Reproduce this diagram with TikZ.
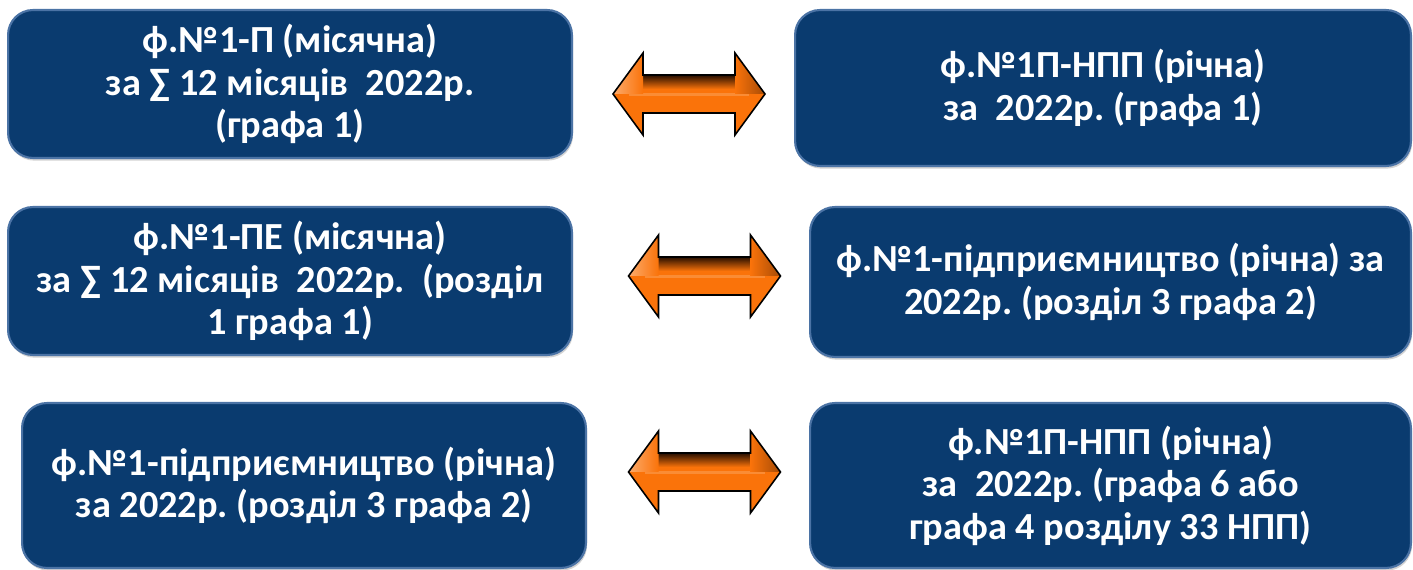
\documentclass[tikz,border=0pt]{standalone}
\usepackage{fontspec}
\setmainfont{Carlito}
\usetikzlibrary{shadows}
\frenchspacing
\definecolor{boxblue}{RGB}{10,59,111}
\definecolor{boxedge}{RGB}{75,115,165}
\definecolor{arrowlight}{RGB}{250,115,10}
\definecolor{arrowdark}{RGB}{40,15,0}
\newcommand{\linkshape}{(-76,0) -- (-46,-41) -- (-46,-19) -- (46,-19) -- (46,-41) -- (76,0)
	-- (46,41) -- (46,19) -- (-46,19) -- (-46,41) -- cycle}

\begin{document}
\begin{tikzpicture}[x=0.02cm, y=-0.02cm,
	formbox/.style={draw=boxedge, line width=1.2pt, fill=boxblue, rounded corners=0.5cm, text=white, align=center, inner sep=0pt,
		font=\bfseries\fontsize{21.8}{24.2}\selectfont, drop shadow={opacity=0.35, shadow xshift=0.6pt, shadow yshift=-1.5pt}}]
	\useasboundingbox (0,0) rectangle (1413,570);

	\node [formbox, minimum width=11.28cm, minimum height=2.96cm] (pmonth) at (290,84)
		{ф.№1-П (місячна)\\за ∑ 12 місяців\ \ 2022р.\\(графа 1)};
	\node [formbox, minimum width=12.32cm, minimum height=3.12cm] (nppyear) at (1103,88)
		{ф.№1П-НПП (річна)\\за\ \ 2022р. (графа 1)};

	\node [formbox, minimum width=11.28cm, minimum height=2.96cm] (pemonth) at (290,281)
		{ф.№1-ПЕ (місячна)\\за ∑ 12 місяців\ \ 2022р.\ \ (розділ\\1 графа 1)};
	\node [formbox, minimum width=12.02cm, minimum height=3cm] (entyear) at (1110.5,282)
		{ф.№1-підприємництво (річна) за\\2022р. (розділ 3 графа 2)};

	\node [formbox, minimum width=11.28cm, minimum height=3.3cm] (entyearb) at (304,485.5)
		{ф.№1-підприємництво (річна)\\за 2022р. (розділ 3 графа 2)};
	\node [formbox, minimum width=12.02cm, minimum height=3.3cm] (nppyearb) at (1110.5,485.5)
		{ф.№1П-НПП (річна)\\за\ \ 2022р. (графа 6 або\\графа 4 розділу 33 НПП)};

	\coordinate (link1) at (689,94);
	\coordinate (link2) at (704.5,276);
	\coordinate (link3) at (704.5,472);

	\foreach \l in {link1,link2,link3}
	{
		\begin{scope}[shift={(\l)}]
			\fill [arrowlight] \linkshape;
			\shade [top color=arrowdark, bottom color=arrowlight] (-46,-19) rectangle (46,-5);
			\fill [arrowlight!70!white, opacity=0.6] (-60,-1) rectangle (60,2);
			\shade [left color=arrowlight, right color=arrowdark!40!arrowlight] (46,-41) -- (76,0) -- (46,0) -- cycle;
			\shade [right color=arrowlight, left color=arrowlight!60!white] (-46,-41) -- (-76,0) -- (-46,0) -- cycle;
			\draw [black, line width=0.9pt, line join=miter] \linkshape;
		\end{scope}
	}
\end{tikzpicture}
\end{document}
